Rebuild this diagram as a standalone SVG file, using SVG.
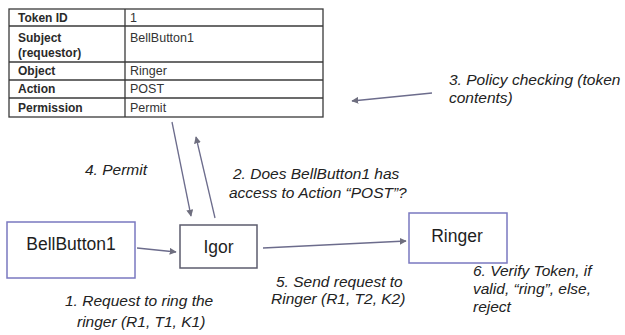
<svg xmlns="http://www.w3.org/2000/svg" width="625" height="335" viewBox="0 0 625 335">
  <style>
    .cell { fill: none; stroke: #3a3a3a; stroke-width: 1.3; }
    .th { font-family: "Liberation Sans", Arial, sans-serif; font-size: 12px; font-weight: bold; fill: #2a2a2a; }
    .td { font-family: "Liberation Sans", Arial, sans-serif; font-size: 12.5px; fill: #333; }
    .box { fill: #fff; stroke: #7a78c0; stroke-width: 1.5; }
    .box-dark { fill: #fff; stroke: #5c5c6e; stroke-width: 1.5; }
    .name { font-family: "Liberation Sans", Arial, sans-serif; font-size: 17.5px; fill: #1e1e1e; }
    .note { font-family: "Liberation Sans", Arial, sans-serif; font-size: 15.5px; font-style: italic; fill: #222; }
    .link { fill: none; stroke: #6c6c8c; stroke-width: 1.3; marker-end: url(#head); }
  </style>
  <defs>
    <marker id="head" viewBox="0 0 10 10" refX="9" refY="5" markerWidth="7" markerHeight="7" orient="auto" markerUnits="userSpaceOnUse">
      <path d="M0,0 L10,5 L0,10 Z" fill="#6e6e7e"/>
    </marker>
  </defs>
  <rect width="625" height="335" fill="#ffffff"/>

  <!-- token table -->
  <g id="token-table">
    <rect class="cell" x="9" y="9" width="314" height="108"/>
    <line class="cell" x1="125" y1="9" x2="125" y2="117"/>
    <line class="cell" x1="9" y1="26" x2="323" y2="26"/>
    <line class="cell" x1="9" y1="62" x2="323" y2="62"/>
    <line class="cell" x1="9" y1="80" x2="323" y2="80"/>
    <line class="cell" x1="9" y1="98" x2="323" y2="98"/>
    <text class="th" x="18" y="22">Token ID</text>
    <text class="th" x="18" y="42">Subject</text>
    <text class="th" x="18" y="57">(requestor)</text>
    <text class="th" x="18" y="75">Object</text>
    <text class="th" x="18" y="93">Action</text>
    <text class="th" x="18" y="112">Permission</text>
    <text class="td" x="130" y="22">1</text>
    <text class="td" x="130" y="42">BellButton1</text>
    <text class="td" x="130" y="75">Ringer</text>
    <text class="td" x="130" y="93">POST</text>
    <text class="td" x="130" y="112">Permit</text>
  </g>

  <!-- nodes -->
  <g id="bellbutton1">
    <rect class="box" x="7" y="222" width="128" height="56"/>
    <text class="name" x="71" y="250" text-anchor="middle">BellButton1</text>
  </g>
  <g id="igor">
    <rect class="box-dark" x="180" y="225" width="77" height="43"/>
    <text class="name" x="218.5" y="253" text-anchor="middle">Igor</text>
  </g>
  <g id="ringer">
    <rect class="box" x="409" y="213" width="98" height="50"/>
    <text class="name" x="457" y="242" text-anchor="middle">Ringer</text>
  </g>

  <!-- connectors -->
  <g id="connectors">
    <line class="link" x1="137" y1="248" x2="176" y2="252"/>
    <line class="link" x1="263" y1="248" x2="406" y2="241"/>
    <line class="link" x1="172" y1="122" x2="191" y2="216"/>
    <line class="link" x1="215" y1="218" x2="196" y2="137"/>
    <line class="link" x1="432" y1="93" x2="352" y2="101"/>
  </g>

  <!-- step notes -->
  <g id="notes">
    <text class="note" x="449" y="85">3. Policy checking (token</text>
    <text class="note" x="449" y="103">contents)</text>
    <text class="note" x="85" y="175">4. Permit</text>
    <text class="note" x="233" y="179">2. Does BellButton1 has</text>
    <text class="note" x="229" y="198">access to Action “POST”?</text>
    <text class="note" x="65" y="306">1. Request to ring the</text>
    <text class="note" x="77" y="327">ringer (R1, T1, K1)</text>
    <text class="note" x="276" y="287">5. Send request to</text>
    <text class="note" x="271" y="304">Ringer (R1, T2, K2)</text>
    <text class="note" x="473" y="276">6. Verify Token, if</text>
    <text class="note" x="473" y="294">valid, “ring”, else,</text>
    <text class="note" x="473" y="312">reject</text>
  </g>
</svg>
